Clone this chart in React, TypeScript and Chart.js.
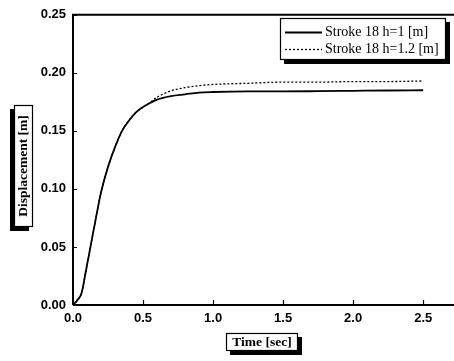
import React, { useEffect, useRef } from "react";
import { Chart, registerables } from "chart.js";

Chart.register(...registerables);

const timeValues = [0, 0.03, 0.062, 0.09, 0.12, 0.14, 0.17, 0.2, 0.25, 0.3, 0.35, 0.4, 0.45, 0.5, 0.55, 0.6, 0.7, 0.8, 0.9, 1.0, 1.25, 1.5, 1.75, 2.0, 2.25, 2.5];
const strokeH1 = [0, 0.004, 0.0105, 0.028, 0.047, 0.06, 0.079, 0.097, 0.119, 0.136, 0.15, 0.159, 0.166, 0.1705, 0.174, 0.177, 0.18, 0.1815, 0.183, 0.1835, 0.184, 0.184, 0.1842, 0.1845, 0.1848, 0.185];
const strokeH12 = [0, 0.004, 0.0105, 0.028, 0.047, 0.06, 0.079, 0.097, 0.119, 0.136, 0.15, 0.159, 0.166, 0.1705, 0.1745, 0.179, 0.1845, 0.1872, 0.189, 0.19, 0.191, 0.192, 0.192, 0.1925, 0.1925, 0.193];
const seriesLabels = ["Stroke 18 h=1 [m]", "Stroke 18 h=1.2 [m]"];
const xTitle = "Time [sec]";
const yTitle = "Displacement [m]";

const SERIF = "'Liberation Serif', 'Times New Roman', serif";
const SANS = "'Liberation Sans', Arial, sans-serif";

function drawShadowBox(ctx: CanvasRenderingContext2D, x: number, y: number, w: number, h: number, shadowLeft: boolean) {
  ctx.save();
  ctx.fillStyle = "#000";
  if (shadowLeft) {
    ctx.fillRect(x - 4, y + 4, 4, h);
    ctx.fillRect(x - 4, y + h, w, 4);
  } else {
    ctx.fillRect(x + w, y + 4, 4, h);
    ctx.fillRect(x + 4, y + h, w, 4);
  }
  ctx.fillStyle = "#fff";
  ctx.fillRect(x, y, w, h);
  ctx.strokeStyle = "#000";
  ctx.lineWidth = 1.2;
  ctx.strokeRect(x + 0.5, y + 0.5, w - 1, h - 1);
  ctx.restore();
}

const decorPlugin = {
  id: "decor",
  afterDraw(chart: any) {
    const ctx: CanvasRenderingContext2D = chart.ctx;
    const { left, top, right, bottom } = chart.chartArea;
    const xs = chart.scales.x;
    const ys = chart.scales.y;
    ctx.save();
    // frame
    ctx.strokeStyle = "#000";
    ctx.lineWidth = 2;
    ctx.beginPath();
    ctx.moveTo(left, bottom);
    ctx.lineTo(left, top);
    ctx.lineTo(right, top);
    ctx.moveTo(left, bottom);
    ctx.lineTo(right, bottom);
    ctx.stroke();
    // inward ticks
    ctx.lineWidth = 1.2;
    ctx.beginPath();
    xs.ticks.forEach((t: any) => {
      const px = Math.round(xs.getPixelForValue(t.value)) + 0.5;
      ctx.moveTo(px, bottom);
      ctx.lineTo(px, bottom - 5);
    });
    ys.ticks.forEach((t: any) => {
      const py = Math.round(ys.getPixelForValue(t.value)) + 0.5;
      ctx.moveTo(left, py);
      ctx.lineTo(left + 4, py);
    });
    ctx.stroke();

    // legend
    const lx = 280, ly = 18, lw = 166, lh = 42;
    drawShadowBox(ctx, lx, ly, lw, lh, false);
    ctx.font = `14px ${SERIF}`;
    ctx.fillStyle = "#000";
    ctx.textBaseline = "middle";
    ctx.textAlign = "left";
    chart.data.datasets.forEach((ds: any, i: number) => {
      const rowY = ly + 14 + i * 17;
      ctx.strokeStyle = "#000";
      ctx.lineWidth = ds.borderWidth;
      ctx.setLineDash(ds.borderDash || []);
      ctx.beginPath();
      ctx.moveTo(lx + 5, rowY + 0.5);
      ctx.lineTo(lx + 42, rowY + 0.5);
      ctx.stroke();
      ctx.setLineDash([]);
      ctx.fillText(ds.label, lx + 45, rowY);
    });

    // x title
    ctx.font = `bold 13.5px ${SERIF}`;
    drawShadowBox(ctx, 226, 333, 72, 18, false);
    ctx.fillStyle = "#000";
    ctx.textAlign = "center";
    ctx.textBaseline = "middle";
    ctx.fillText(xTitle, 262, 342.5);

    // y title
    drawShadowBox(ctx, 14, 105, 19, 122, true);
    ctx.save();
    ctx.translate(23.5, 166);
    ctx.rotate(-Math.PI / 2);
    ctx.fillStyle = "#000";
    ctx.textAlign = "center";
    ctx.textBaseline = "middle";
    ctx.fillText(yTitle, 0, 0);
    ctx.restore();
    ctx.restore();
  },
};

export default function App() {
  const ref = useRef<HTMLCanvasElement | null>(null);
  useEffect(() => {
    if (!ref.current) return;
    const chart = new Chart(ref.current, {
      type: "line",
      data: {
        datasets: [
          {
            label: seriesLabels[0],
            data: timeValues.map((t, i) => ({ x: t, y: strokeH1[i] })),
            borderColor: "#000",
            borderWidth: 1.8,
            pointRadius: 0,
            fill: false,
            cubicInterpolationMode: "monotone",
          },
          {
            label: seriesLabels[1],
            data: timeValues.map((t, i) => ({ x: t, y: strokeH12[i] })),
            borderColor: "#000",
            borderWidth: 1.3,
            borderDash: [2, 2],
            pointRadius: 0,
            fill: false,
            cubicInterpolationMode: "monotone",
          },
        ],
      },
      options: {
        responsive: false,
        animation: false,
        devicePixelRatio: 1,
        layout: { padding: { left: 0, right: 0, top: 12, bottom: 0 } },
        plugins: { legend: { display: false }, tooltip: { enabled: false } },
        scales: {
          x: {
            type: "linear",
            min: 0,
            max: 2.72,
            grid: { display: false, drawTicks: false },
            border: { display: false },
            ticks: {
              stepSize: 0.5,
              includeBounds: false,
              maxRotation: 0,
              padding: 6,
              color: "#000",
              font: { family: SANS, size: 13, weight: "bold" },
              callback: (v: any) => Number(v).toFixed(1),
            },
            afterFit: (s: any) => { s.height = 56; },
          },
          y: {
            type: "linear",
            min: 0,
            max: 0.25,
            grid: { display: false, drawTicks: false },
            border: { display: false },
            ticks: {
              stepSize: 0.05,
              padding: 7,
              color: "#000",
              font: { family: SANS, size: 13, weight: "bold" },
              callback: (v: any) => Number(v).toFixed(2),
            },
            afterFit: (s: any) => { s.width = 73; },
          },
        },
      } as any,
      plugins: [decorPlugin],
    });
    return () => chart.destroy();
  }, []);
  return (
    <div style={{ position: "fixed", left: 0, top: 0, width: 454, height: 361, background: "#fff" }}>
      <canvas ref={ref} width={454} height={361} style={{ display: "block" }} />
    </div>
  );
}
